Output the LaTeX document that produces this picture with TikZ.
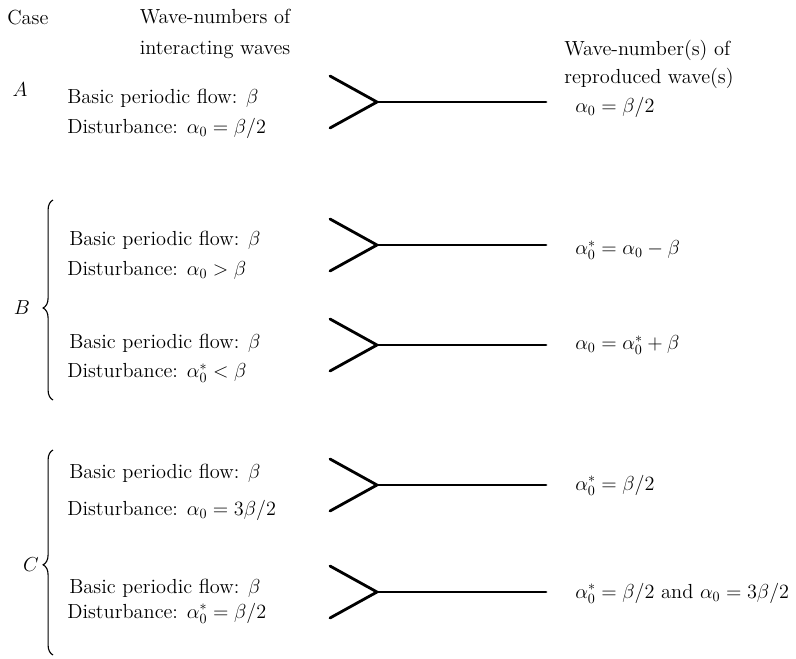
\documentclass[tikz,border=0pt]{standalone}
\usepackage{amsmath}
\usetikzlibrary{positioning, decorations.pathreplacing}

\begin{document}
\begin{tikzpicture}[
    x=0.025cm, y=-0.025cm,
    txt/.style={anchor=west, inner sep=0pt, font=\fontsize{14.5}{17}\selectfont},
    hd/.style={inner sep=0pt, align=center, font=\fontsize{14.5}{17}\selectfont},
    lbl/.style={inner sep=0pt, font=\fontsize{14.5}{17}\selectfont},
    arm/.style={line width=2pt, line cap=round},
    brc/.style={line width=0.8pt, decorate,
                decoration={brace, amplitude=7pt, aspect=#1}}
]
\useasboundingbox (0,0) rectangle (796,658);

% ---- column heads ----
\node[hd, anchor=west] (hcase) at (7,18) {Case};
\node[hd] (hin) at (215,34) {Wave-numbers of\\[5pt]interacting waves};
\node[hd, anchor=west, align=left] (hout) at (564,64) {Wave-number(s) of\\[3pt]reproduced wave(s)};

% ---- case A ----
\node[lbl] (labA) at (20,90) {$A$};
\node[txt] (baseA) at (67,98) {Basic periodic flow: $\beta$};
\node[txt] (distA) at (67,128) {Disturbance: $\alpha_0=\beta/2$};
\node[txt] (outA) at (575,107) {$\alpha_0=\beta/2$};

% ---- case B ----
\node[txt] (baseB1) at (69,240) {Basic periodic flow: $\beta$};
\node[txt] (distB1) at (67,270) {Disturbance: $\alpha_0>\beta$};
\node[txt] (outB1) at (575,250) {$\alpha_0^*=\alpha_0-\beta$};
\node[txt] (baseB2) at (69,343) {Basic periodic flow: $\beta$};
\node[txt] (distB2) at (67,373) {Disturbance: $\alpha_0^*<\beta$};
\node[txt] (outB2) at (575,345) {$\alpha_0=\alpha_0^*+\beta$};

% ---- case C ----
\node[txt] (baseC1) at (69,473) {Basic periodic flow: $\beta$};
\node[txt] (distC1) at (67,510) {Disturbance: $\alpha_0=3\beta/2$};
\node[txt] (outC1) at (575,485) {$\alpha_0^*=\beta/2$};
\node[txt] (baseC2) at (69,588) {Basic periodic flow: $\beta$};
\node[txt] (distC2) at (67,613) {Disturbance: $\alpha_0^*=\beta/2$};
\node[txt] (outC2) at (575,593) {$\alpha_0^*=\beta/2$ and $\alpha_0=3\beta/2$};

% ---- braces ----
\coordinate (bBot) at (53,400);
\coordinate (bTop) at (53,200);
\draw[brc=0.46] (bBot) -- (bTop);
\node[lbl] (labB) at (22,308) {$B$};
\coordinate (cBot) at (53,655);
\coordinate (cTop) at (53,450);
\draw[brc=0.44] (cBot) -- (cTop);
\node[lbl] (labC) at (31,565) {$C$};

% ---- forks: two waves meet, one goes on ----
\foreach \n/\y in {A/102, B1/245, B2/345, C1/485, C2/592}{%
  \coordinate (up\n) at (330,\y-26);
  \coordinate (lo\n) at (330,\y+26);
  \coordinate (j\n) at (377,\y);
  \coordinate (e\n) at (546,\y);
  \draw[arm] (up\n) -- (j\n) -- (lo\n);
  \draw[arm] (j\n) -- (e\n);
}
\end{tikzpicture}
\end{document}
